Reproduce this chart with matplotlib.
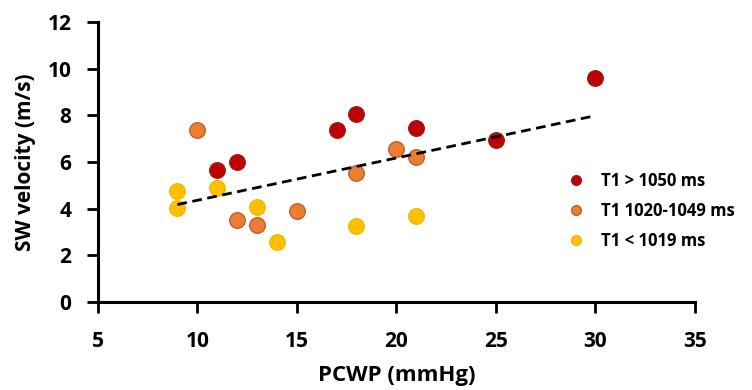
import numpy as np
import matplotlib
matplotlib.use('Agg')
import matplotlib.pyplot as plt
from matplotlib.lines import Line2D

# Данные
red_x = [11, 12, 17, 18, 21, 25, 30]
red_y = [5.66, 6.01, 7.37, 8.06, 7.44, 6.94, 9.59]
orange_x = [10, 12, 13, 15, 18, 20, 21]
orange_y = [7.37, 3.51, 3.30, 3.91, 5.51, 6.56, 6.20]
yellow_x = [9, 9, 11, 13, 14, 18, 21]
yellow_y = [4.73, 4.01, 4.87, 4.06, 2.58, 3.23, 3.69]

labels = ['T1 > 1050 ms', 'T1 1020-1049 ms', 'T1 < 1019 ms']
face_colors = ['#C00000', '#ED7D31', '#FFC000']
edge_colors = ['#9E1A1A', '#C0602A', '#F5B800']

x_ticks = [5, 10, 15, 20, 25, 30, 35]
y_ticks = [0, 2, 4, 6, 8, 10, 12]

plt.rcParams['font.family'] = ['Open Sans', 'DejaVu Sans']
plt.rcParams['font.weight'] = 'bold'

fig = plt.figure(figsize=(7.52, 3.9), dpi=100)
ax = fig.add_axes([0.130, 0.226, 0.794, 0.718])

series = [(red_x, red_y), (orange_x, orange_y), (yellow_x, yellow_y)]
for (xs, ys), fc, ec in zip(series, face_colors, edge_colors):
    ax.scatter(xs, ys, s=125, c=fc, edgecolors=ec, linewidths=1.0, zorder=3)

# Линия тренда по всем точкам
all_x = np.array(red_x + orange_x + yellow_x, dtype=float)
all_y = np.array(red_y + orange_y + yellow_y, dtype=float)
k, b = np.polyfit(all_x, all_y, 1)
xl = np.array([all_x.min(), all_x.max()])
ax.plot(xl, k * xl + b, color='black', linestyle=(0, (3.5, 2)), linewidth=2, zorder=4)

ax.set_xlim(5, 35)
ax.set_ylim(0, 12)
ax.set_xticks(x_ticks)
ax.set_yticks(y_ticks)
ax.tick_params(axis='both', direction='out', length=8, width=2, labelsize=15)
ax.tick_params(axis='x', pad=13)
ax.tick_params(axis='y', pad=11)
for lbl in ax.get_xticklabels() + ax.get_yticklabels():
    lbl.set_fontweight('bold')
for side in ['top', 'right']:
    ax.spines[side].set_visible(False)
for side in ['left', 'bottom']:
    ax.spines[side].set_linewidth(2.2)

ax.set_xlabel('PCWP (mmHg)', fontsize=16, fontweight='bold', labelpad=9)
ax.set_ylabel('SW velocity (m/s)', fontsize=15, fontweight='bold', labelpad=8)

handles = [Line2D([0], [0], marker='o', linestyle='none', markersize=7,
                  markerfacecolor=fc, markeredgecolor=ec)
           for fc, ec in zip(face_colors, edge_colors)]
leg = ax.legend(handles, labels, loc='center left', bbox_to_anchor=(0.762, 0.325),
                frameon=False, fontsize=12, handletextpad=1.0, labelspacing=0.72,
                handlelength=1.0)
for t in leg.get_texts():
    t.set_fontweight('bold')

fig.savefig('out.png', dpi=100)
